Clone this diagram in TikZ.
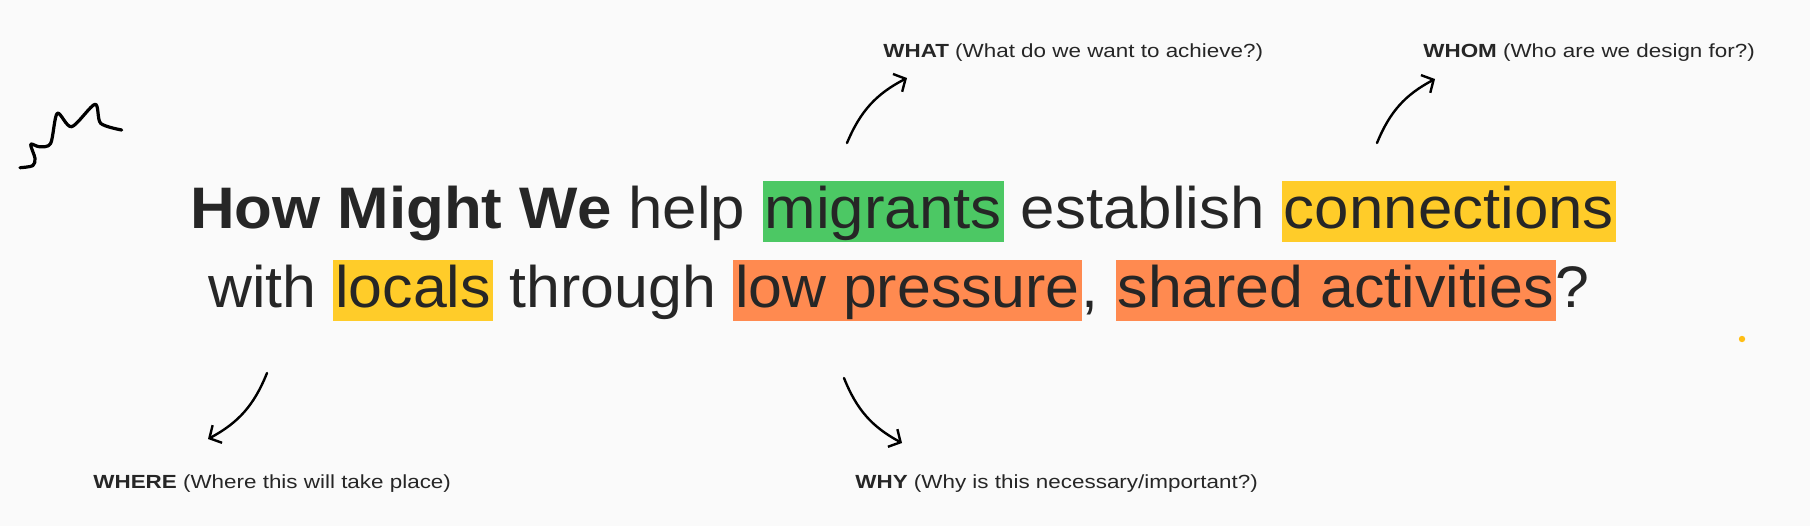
\documentclass[tikz,border=0pt]{standalone}
\usepackage{fontspec}
\setmainfont{Liberation Sans}
\newfontfamily\hmwfont[FakeStretch=1.055]{Liberation Sans}
\newfontfamily\hmwfonttwo[FakeStretch=1.038]{Liberation Sans}
\newfontfamily\labelfont[FakeStretch=1.18]{Liberation Sans}
\usepackage{tikz}
\usetikzlibrary{arrows.meta}
\usetikzlibrary{calc}

\definecolor{bgpaper}{RGB}{250,250,250}
\definecolor{inkgray}{RGB}{38,38,38}
\definecolor{hlgreen}{RGB}{76,200,100}
\definecolor{hlyellow}{RGB}{255,204,41}
\definecolor{hlorange}{RGB}{255,138,80}
\definecolor{dotyellow}{RGB}{255,190,20}

\newcommand{\hlword}[2]{{\setlength{\fboxsep}{0pt}\colorbox{#1}{\rule[-7pt]{0pt}{30.5pt}\hspace{1pt}#2\hspace{1pt}}}}

\tikzset{
  hmw/.style={inkgray, inner sep=0pt, anchor=base, font=\hmwfont\fontsize{29.3}{35}\selectfont},
  hmwtwo/.style={hmw, font=\hmwfonttwo\fontsize{29.3}{35}\selectfont},
  qlabel/.style={inkgray, inner sep=0pt, anchor=base west, font=\labelfont\fontsize{9.5}{11}\selectfont},
  pointer/.style={line width=1.2pt, line cap=round, -{Straight Barb[length=4.5pt,width=10pt]}}
}

\begin{document}
\begin{tikzpicture}[x=0.5pt,y=0.5pt]
\fill[bgpaper] (0,0) rectangle (1810,-526);
\node[hmw] (lineone) at (903,-228) {\textbf{How Might We} help \hlword{hlgreen}{migrants} establish \hlword{hlyellow}{connections}};
\node[hmwtwo] (linetwo) at (899,-307) {with \hlword{hlyellow}{locals} through \hlword{hlorange}{low pressure}, \hlword{hlorange}{shared activities}?};
\node[qlabel] (what) at (883,-57) {\textbf{WHAT} (What do we want to achieve?)};
\node[qlabel] (whom) at (1423,-57) {\textbf{WHOM} (Who are we design for?)};
\node[qlabel] (where) at (93,-488) {\textbf{WHERE} (Where this will take place)};
\node[qlabel] (why) at (855,-488) {\textbf{WHY} (Why is this necessary/important?)};
\coordinate (whatfoot) at (847,-143);
\coordinate (whattip) at (907,-78);
\coordinate (whomfoot) at (1377,-143);
\coordinate (whomtip) at (1435,-79);
\coordinate (wherefoot) at (267,-373);
\coordinate (wheretip) at (208,-439);
\coordinate (whyfoot) at (844,-378);
\coordinate (whytip) at (902,-443);
\draw[pointer] (whatfoot) to[bend left=20] (whattip);
\draw[pointer] (whomfoot) to[bend left=20] (whomtip);
\draw[pointer] (wherefoot) to[bend left=20] (wheretip);
\draw[pointer] (whyfoot) to[bend right=20] (whytip);
\draw[line width=1.6pt, line cap=round, line join=round] plot[smooth, tension=0.5] coordinates {(20,-167.7) (32.7,-165.7) (35,-158.3) (30.7,-144.3) (39.3,-146.7) (50.7,-143.3) (57.3,-113.3) (71.7,-126.7) (95,-104.3) (100.7,-123.3) (121.7,-130)};
\fill[dotyellow] (1742,-339) circle (1.6pt);
\end{tikzpicture}
\end{document}
